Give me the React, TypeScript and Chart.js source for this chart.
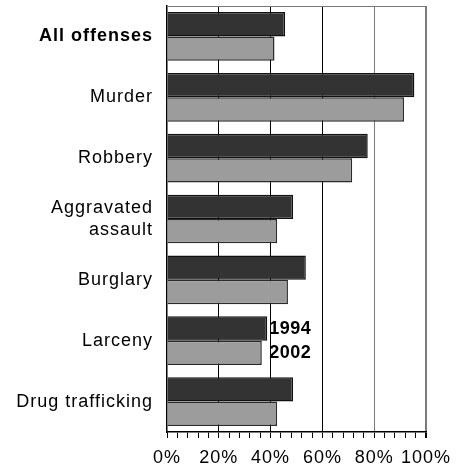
import React, { useEffect, useRef } from "react";
import { Chart, registerables } from "chart.js";

Chart.register(...registerables);

const categories: (string | string[])[] = [
  "All offenses",
  "Murder",
  "Robbery",
  ["Aggravated", "assault"],
  "Burglary",
  "Larceny",
  "Drug trafficking",
];
const values1994 = [45.6, 95.5, 77.5, 48.7, 53.6, 38.7, 48.7];
const values2002 = [41.5, 91.5, 71.5, 42.5, 46.7, 36.6, 42.5];
const seriesNames = ["1994", "2002"];
const legendCategoryIndex = 5;

const FONT = "'Liberation Sans', Arial, Helvetica, sans-serif";
const SPACING = "1px";

export default function App() {
  const ref = useRef<HTMLCanvasElement>(null);
  useEffect(() => {
    if (!ref.current) return;
    const spacing = {
      id: "spacing",
      beforeLayout(chart: any) {
        chart.ctx.letterSpacing = SPACING;
      },
      beforeDraw(chart: any) {
        chart.ctx.letterSpacing = SPACING;
      },
    };
    const extras = {
      id: "extras",
      afterDatasetsDraw(chart: any) {
        const ctx = chart.ctx;
        const area = chart.chartArea;
        ctx.save();
        ctx.strokeStyle = "#777";
        ctx.lineWidth = 1;
        ctx.beginPath();
        ctx.moveTo(area.left, area.top + 0.5);
        ctx.lineTo(area.right, area.top + 0.5);
        ctx.stroke();
        const m0 = chart.getDatasetMeta(0).data[legendCategoryIndex];
        const m1 = chart.getDatasetMeta(1).data[legendCategoryIndex];
        ctx.font = `bold 18px ${FONT}`;
        ctx.letterSpacing = "0.5px";
        ctx.fillStyle = "#000";
        ctx.textAlign = "left";
        ctx.textBaseline = "middle";
        const x = Math.max(m0.x, m1.x) + 2;
        ctx.fillText(seriesNames[0], x, m0.y);
        ctx.fillText(seriesNames[1], x, m1.y);
        ctx.restore();
      },
    };
    const chart = new Chart(ref.current, {
      type: "bar",
      data: {
        labels: categories,
        datasets: [
          {
            label: seriesNames[0],
            data: values1994,
            backgroundColor: "#333333",
            borderColor: "#111111",
            borderWidth: 1.5,
          },
          {
            label: seriesNames[1],
            data: values2002,
            backgroundColor: "#9c9c9c",
            borderColor: "#2a2a2a",
            borderWidth: 1.5,
          },
        ],
      },
      options: {
        indexAxis: "y",
        responsive: false,
        animation: false,
        datasets: {
          bar: { categoryPercentage: 0.8, barPercentage: 1 },
        },
        layout: { padding: { top: 6, right: 0, bottom: 0, left: 0 } },
        plugins: {
          legend: { display: false },
          tooltip: { enabled: false },
        },
        scales: {
          x: {
            min: 0,
            max: 100,
            afterFit(scale: any) {
              scale.height = 40;
              scale.paddingRight = 31;
            },
            ticks: {
              stepSize: 4,
              autoSkip: false,
              maxRotation: 0,
              padding: 9,
              color: "#000",
              font: { family: FONT, size: 18 },
              callback: (v: any) => (Number(v) % 20 === 0 ? `${v}%` : ""),
            },
            grid: {
              drawOnChartArea: true,
              tickLength: 6,
              tickColor: "#000",
              color: (c: any) => {
                const v = c.tick ? c.tick.value : 0;
                if (v === 0 || v % 20 !== 0) return "rgba(0,0,0,0)";
                if (v >= 80) return "#7a7a7a";
                return "#000";
              },
              lineWidth: (c: any) => (c.tick && c.tick.value === 100 ? 2 : 1),
            },
            border: { display: true, color: "#000", width: 1.5 },
          },
          y: {
            afterFit(scale: any) {
              scale.width = 167;
              scale.paddingTop = 0;
              scale.paddingBottom = 0;
            },
            ticks: {
              color: "#000",
              padding: 6,
              font: (c: any) => ({
                family: FONT,
                size: 18,
                weight: c.index === 0 ? "bold" : "normal",
                lineHeight: 1.25,
              }),
            },
            grid: { display: false },
            border: { display: true, color: "#000", width: 1.5 },
          },
        },
      },
      plugins: [spacing, extras],
    } as any);
    return () => chart.destroy();
  }, []);
  return (
    <div style={{ position: "fixed", left: 0, top: 0, width: 457, height: 472, background: "#fff" }}>
      <canvas ref={ref} width={457} height={472} />
    </div>
  );
}
